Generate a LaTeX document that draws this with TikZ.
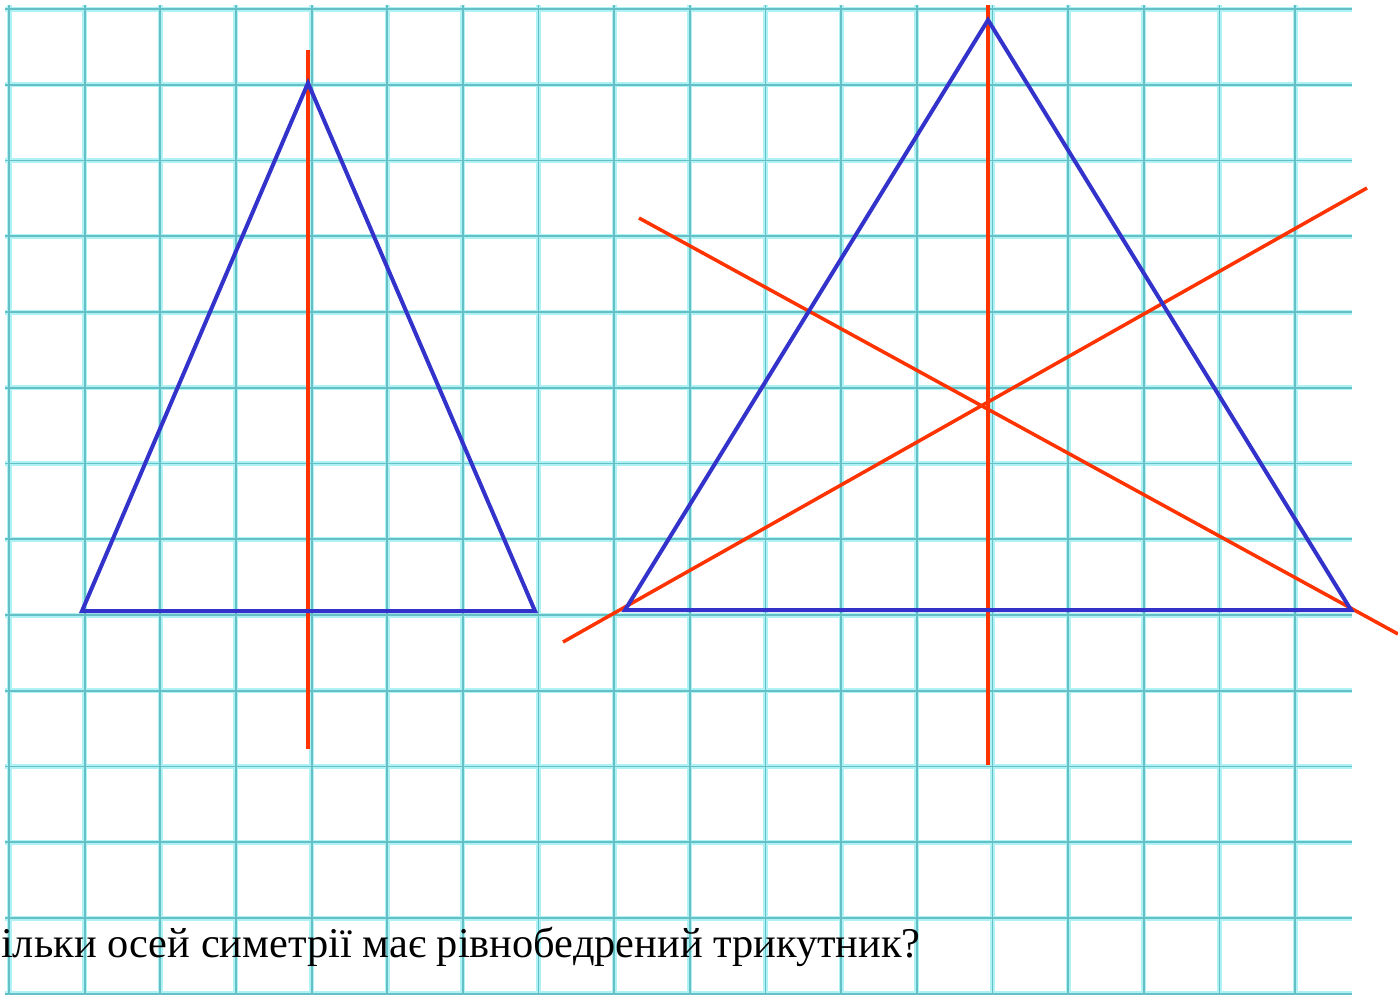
\documentclass[tikz,border=0pt]{standalone}
\usepackage{fontspec}
\setmainfont{Liberation Serif}
\definecolor{gridglow}{RGB}{175,242,245}
\definecolor{gridcore}{RGB}{100,192,196}
\definecolor{triblue}{RGB}{51,51,204}
\definecolor{axred}{RGB}{255,51,0}
\tikzset{
  gridglowline/.style={gridglow, line width=5pt},
  gridcoreline/.style={gridcore, line width=1.8pt},
  tri/.style={triblue, line width=4pt, line join=miter},
  axis/.style={axred, line width=3.5pt},
  caption/.style={anchor=base west, inner sep=0pt, font=\fontsize{42.4}{44}\selectfont}
}
\begin{document}
\begin{tikzpicture}[x=1pt,y=-1pt]
\useasboundingbox (0,0) rectangle (1398,994);
\fill[white] (0,0) rectangle (1398,994);
% grid
\foreach \i in {0,...,17} {
  \draw[gridglowline] ({9+75.65*\i},5) -- ({9+75.65*\i},994);
}
\foreach \j in {0,...,13} {
  \draw[gridglowline] (5,{9+75.75*\j}) -- (1352,{9+75.75*\j});
}
\foreach \i in {0,...,17} {
  \draw[gridcoreline] ({9+75.65*\i},5) -- ({9+75.65*\i},994);
}
\foreach \j in {0,...,13} {
  \draw[gridcoreline] (5,{9+75.75*\j}) -- (1352,{9+75.75*\j});
}
% left triangle
\coordinate (A1) at (308,83);
\coordinate (B1) at (82,611);
\coordinate (C1) at (535,611);
\coordinate (T1) at (308,50);
\coordinate (U1) at (308,749);
\draw[axis] (T1) -- (U1);
\draw[tri] (A1) -- (B1) -- (C1) -- cycle;
% right triangle
\coordinate (A2) at (988,20);
\coordinate (B2) at (625,610);
\coordinate (C2) at (1351,610);
\coordinate (T2) at (988,5);
\coordinate (U2) at (988,765);
\coordinate (P1) at (639,218);
\coordinate (P2) at (1398,634);
\coordinate (Q1) at (563,642);
\coordinate (Q2) at (1367,188);
\draw[axis] (T2) -- (U2);
\draw[axis] (P1) -- (P2);
\draw[axis] (Q1) -- (Q2);
\draw[tri] (A2) -- (B2) -- (C2) -- cycle;
% caption
\node[caption] (cap) at (1,957) {ільки осей симетрії має рівнобедрений трикутник?};
\end{tikzpicture}
\end{document}
